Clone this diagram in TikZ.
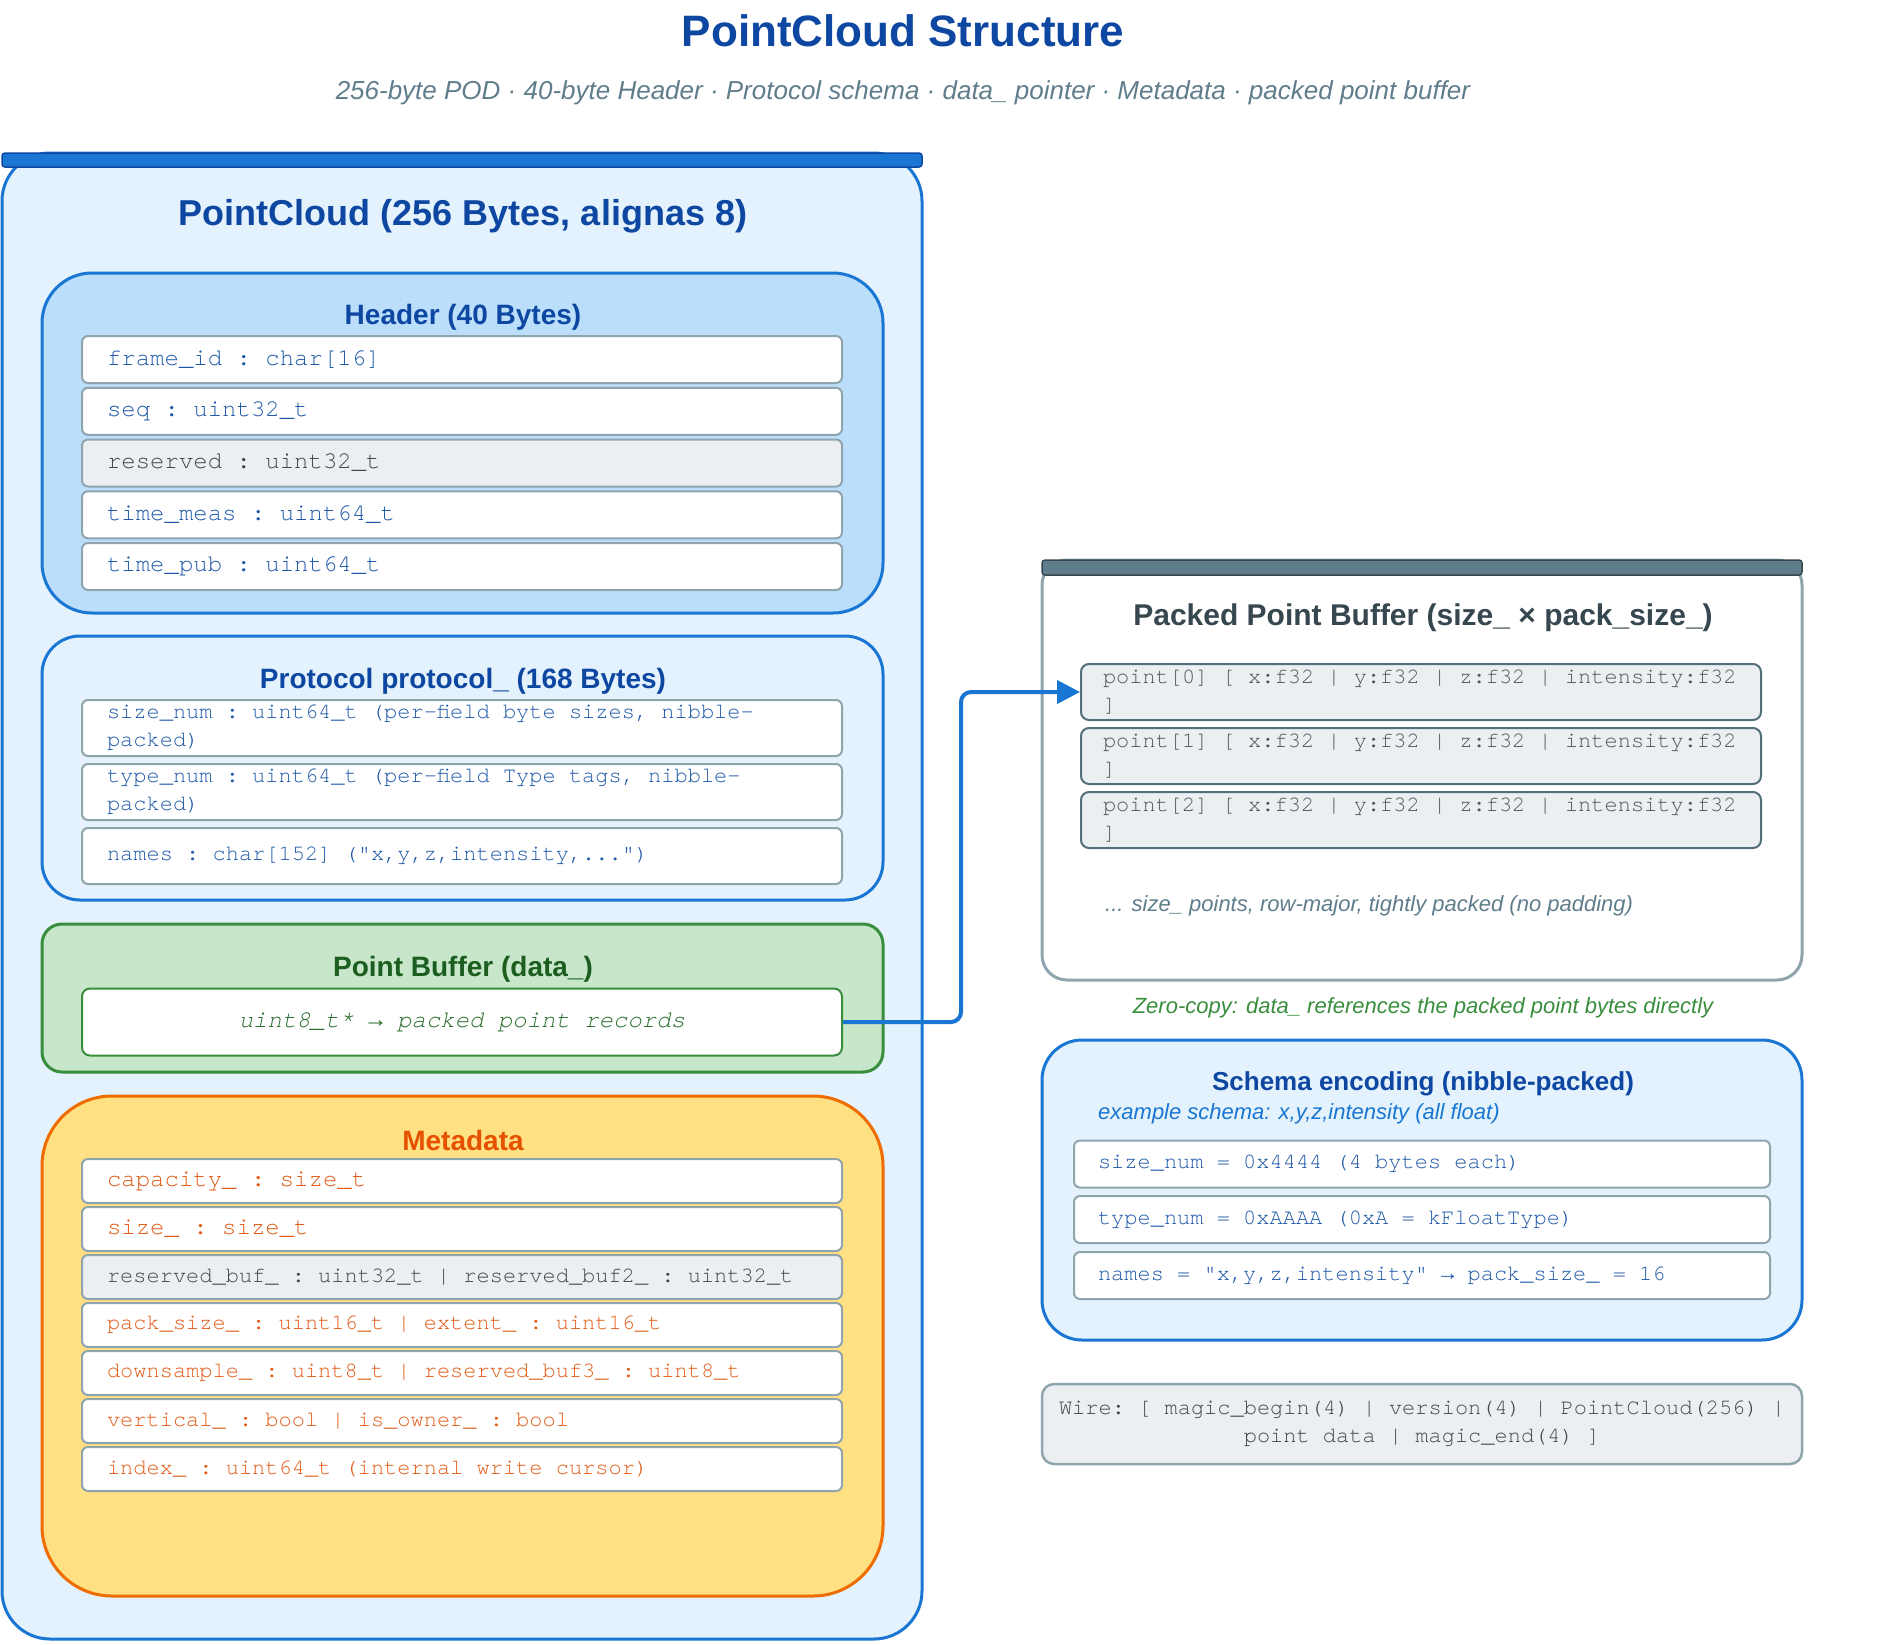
\documentclass[tikz,border=0pt]{standalone}
\usepackage{fontspec}
\setmainfont{Liberation Sans}
\setmonofont{TeX Gyre Cursor}[WordSpace={1,0,0}]
\newfontfamily\arrowfont{Liberation Mono}
\newcommand\rarr{{\arrowfont →}}
\newcommand\monosp{\spaceskip=0.6em\relax\xspaceskip=0.6em\relax}
\usetikzlibrary{arrows.meta}
\definecolor{dblue}{HTML}{0D47A1}
\definecolor{mblue}{HTML}{1976D2}
\definecolor{lblue}{HTML}{E3F2FD}
\definecolor{hblue}{HTML}{BBDEFB}
\definecolor{fieldblue}{HTML}{1F58A8}
\definecolor{rowborder}{HTML}{90A4AE}
\definecolor{resfill}{HTML}{ECEFF1}
\definecolor{restext}{HTML}{444444}
\definecolor{gfill}{HTML}{C8E6C9}
\definecolor{gborder}{HTML}{388E3C}
\definecolor{gdark}{HTML}{1B5E20}
\definecolor{gtext}{HTML}{2A6E2E}
\definecolor{yfill}{HTML}{FFE082}
\definecolor{oborder}{HTML}{EF6C00}
\definecolor{otitle}{HTML}{E65100}
\definecolor{otext}{HTML}{E25A14}
\definecolor{slate}{HTML}{37474F}
\definecolor{slatebar}{HTML}{607D8B}
\definecolor{slateb}{HTML}{546E7A}
\definecolor{subgray}{HTML}{607D8B}
\definecolor{ptext}{HTML}{4A555B}
\tikzset{
  box/.style={draw=mblue, line width=3pt, fill=lblue, inner sep=0pt},
  fieldrow/.style={draw=rowborder, line width=2pt, fill=white, rounded corners=6pt,
    inner xsep=25pt, inner ysep=0pt, text width=710pt, align=left, text=fieldblue,
    font=\ttfamily\fontsize{24}{28}\selectfont, execute at begin node={\monosp}},
  longrow/.style={fieldrow, font=\ttfamily\fontsize{22}{28}\selectfont},
  resrow/.style={fill=resfill, text=restext},
  hrow/.style={minimum height=47pt},
  prow/.style={minimum height=56pt},
  mrow/.style={minimum height=44pt, text=otext},
  srow/.style={longrow, minimum height=47pt, inner xsep=24pt, text width=648pt},
  pointrow/.style={draw=slateb, line width=2pt, fill=resfill, rounded corners=8pt,
    inner xsep=22pt, inner ysep=0pt, text width=636pt, align=left, text=ptext,
    minimum height=56pt, font=\ttfamily\fontsize{22}{28}\selectfont, execute at begin node={\monosp}},
  boxtitle/.style={font=\bfseries\fontsize{28}{32}\selectfont, inner sep=0pt},
  note/.style={font=\itshape\fontsize{22}{26}\selectfont, inner sep=0pt},
}
\begin{document}
\begin{tikzpicture}[x=1pt,y=-1pt]
\useasboundingbox (0,0) rectangle (1884,1644);
% titles
\node[font=\bfseries\fontsize{44}{50}\selectfont, text=dblue, inner sep=0pt] (title) at (903,31) {PointCloud Structure};
\node[font=\itshape\fontsize{26}{30}\selectfont, text=subgray, inner sep=0pt] (subtitle) at (903,93)
  {256-byte POD · 40-byte Header · Protocol schema · data\_ pointer · Metadata · packed point buffer};

% PointCloud outer box
\node[box, rounded corners=48pt, minimum width=920pt, minimum height=1486pt] (pc) at (462,896) {};
\node[draw=dblue, fill=mblue, line width=1.5pt, rounded corners=3pt, minimum width=920pt, minimum height=14pt, inner sep=0pt] (pcbar) at (462,160) {};
\node[font=\bfseries\fontsize{36}{40}\selectfont, text=dblue, inner sep=0pt] (pctitle) at (463,216.5) {PointCloud (256 Bytes, alignas 8)};

% Header
\node[box, fill=hblue, rounded corners=50pt, minimum width=841pt, minimum height=340pt] (hdr) at (462.5,443) {};
\node[boxtitle, text=dblue] (hdrtitle) at (463,317) {Header (40 Bytes)};
\node[fieldrow, hrow] (h1) at (462,359.5) {frame\_id : char[16]};
\node[fieldrow, hrow] (h2) at (462,411.3) {seq : uint32\_t};
\node[fieldrow, hrow, resrow] (h3) at (462,463) {reserved : uint32\_t};
\node[fieldrow, hrow] (h4) at (462,514.8) {time\_meas : uint64\_t};
\node[fieldrow, hrow] (h5) at (462,566.5) {time\_pub : uint64\_t};

% Protocol
\node[box, rounded corners=38pt, minimum width=841pt, minimum height=264pt] (proto) at (462.5,768) {};
\node[boxtitle, text=dblue] (prototitle) at (463,681) {Protocol protocol\_ (168 Bytes)};
\node[longrow, prow] (p1) at (462,728) {size\_num : uint64\_t (per-field byte sizes, nibble-\\packed)};
\node[longrow, prow] (p2) at (462,792) {type\_num : uint64\_t (per-field Type tags, nibble-\\packed)};
\node[longrow, prow] (p3) at (462,856) {names : char[152] ("x,y,z,intensity,...")};

% Point buffer
\node[box, draw=gborder, fill=gfill, rounded corners=20pt, minimum width=841pt, minimum height=148pt] (pbuf) at (462.5,998) {};
\node[boxtitle, text=gdark] (pbuftitle) at (463,969) {Point Buffer (data\_)};
\node[draw=gborder, line width=2pt, fill=white, rounded corners=8pt, minimum width=760pt, minimum height=67pt,
  text=gtext, font=\ttfamily\itshape\fontsize{24}{28}\selectfont] (pbrow) at (462,1022) {uint8\_t* \rarr{} packed point records};

% Metadata
\node[box, draw=oborder, fill=yfill, rounded corners=70pt, minimum width=841pt, minimum height=500pt] (meta) at (462.5,1346) {};
\node[boxtitle, text=otitle] (metatitle) at (463,1140) {Metadata};
\node[fieldrow, mrow] (m1) at (462,1181) {capacity\_ : size\_t};
\node[fieldrow, mrow] (m2) at (462,1229) {size\_ : size\_t};
\node[longrow, mrow, resrow] (m3) at (462,1277) {reserved\_buf\_ : uint32\_t | reserved\_buf2\_ : uint32\_t};
\node[longrow, mrow] (m4) at (462,1325) {pack\_size\_ : uint16\_t | extent\_ : uint16\_t};
\node[longrow, mrow] (m5) at (462,1373) {downsample\_ : uint8\_t | reserved\_buf3\_ : uint8\_t};
\node[longrow, mrow] (m6) at (462,1421) {vertical\_ : bool | is\_owner\_ : bool};
\node[longrow, mrow] (m7) at (462,1469) {index\_ : uint64\_t (internal write cursor)};

% Packed point buffer
\node[draw=rowborder, line width=3pt, fill=white, rounded corners=25pt, minimum width=760pt, minimum height=420pt, inner sep=0pt] (pk) at (1422,770) {};
\node[draw=slate, fill=slatebar, line width=1.5pt, rounded corners=3pt, minimum width=760pt, minimum height=15pt, inner sep=0pt] (pkbar) at (1422,567.5) {};
\node[font=\bfseries\fontsize{30}{34}\selectfont, text=slate, inner sep=0pt] (pktitle) at (1423,618) {Packed Point Buffer (size\_ × pack\_size\_)};
\node[pointrow] (pt0) at (1421,692) {point[0] [ x:f32 | y:f32 | z:f32 | intensity:f32\\]};
\node[pointrow] (pt1) at (1421,756) {point[1] [ x:f32 | y:f32 | z:f32 | intensity:f32\\]};
\node[pointrow] (pt2) at (1421,820) {point[2] [ x:f32 | y:f32 | z:f32 | intensity:f32\\]};
\node[note, text=subgray, anchor=west] (pkmore) at (1105,906) {... size\_ points, row-major, tightly packed (no padding)};
\node[note, text=gborder] (zerocopy) at (1423,1008) {Zero-copy: data\_ references the packed point bytes directly};

% Schema encoding
\node[box, rounded corners=40pt, minimum width=760pt, minimum height=300pt] (schema) at (1422,1190) {};
\node[font=\bfseries\fontsize{26}{30}\selectfont, text=dblue, inner sep=0pt] (schematitle) at (1423,1084) {Schema encoding (nibble-packed)};
\node[note, text=mblue, anchor=west] (schemaex) at (1098,1114) {example schema: x,y,z,intensity (all float)};
\node[srow] (s1) at (1422,1164) {size\_num = 0x4444 (4 bytes each)};
\node[srow] (s2) at (1422,1219.5) {type\_num = 0xAAAA (0xA = kFloatType)};
\node[srow] (s3) at (1422,1275.5) {names = "x,y,z,intensity" \rarr{} pack\_size\_ = 16};

% Wire
\node[draw=rowborder, line width=2.5pt, fill=resfill, rounded corners=12pt, minimum width=760pt, minimum height=80pt,
  inner xsep=8pt, text width=744pt, align=center, text=restext,
  font=\ttfamily\fontsize{22}{28}\selectfont, execute at begin node={\monosp}] (wire) at (1422,1424)
  {Wire: [ magic\_begin(4) | version(4) | PointCloud(256) |\\point data | magic\_end(4) ]};

% connector
\coordinate (bend) at (961,0);
\draw[mblue, line width=4pt, rounded corners=10pt, -{Triangle[length=23pt,width=23pt]}]
  (pbrow.east) -- (pbrow.east -| bend) |- (pt0.west);
\end{tikzpicture}
\end{document}
